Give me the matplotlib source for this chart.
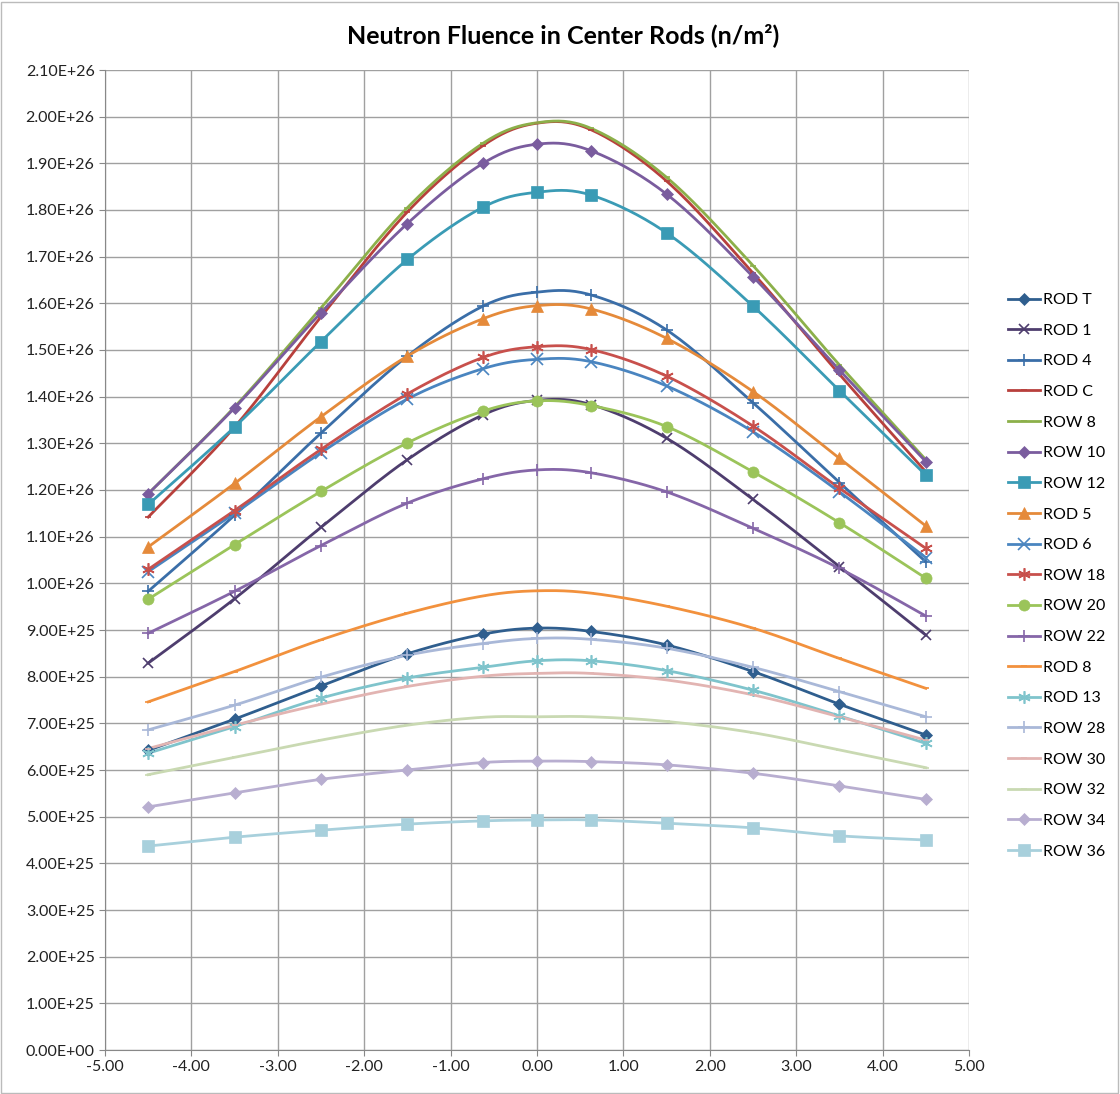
import matplotlib
matplotlib.use("Agg")
import matplotlib.pyplot as plt
import matplotlib.patches as mpatches
from matplotlib.ticker import FuncFormatter, MultipleLocator
import numpy as np

plt.rcParams['font.family'] = ['Lato', 'DejaVu Sans']

# positions along the rod
x_pos = [-4.5, -3.5, -2.5, -1.5, -0.625, 0.0, 0.625, 1.5, 2.5, 3.5, 4.5]

# fluence values in units of 1e26 n/m^2
rod_t = [0.642, 0.709, 0.780, 0.849, 0.891, 0.904, 0.897, 0.868, 0.811, 0.741, 0.675]
rod_1 = [0.829, 0.967, 1.120, 1.265, 1.361, 1.392, 1.383, 1.311, 1.180, 1.036, 0.889]
rod_4 = [0.983, 1.146, 1.322, 1.487, 1.594, 1.624, 1.618, 1.543, 1.387, 1.216, 1.046]
rod_c = [1.142, 1.335, 1.571, 1.796, 1.938, 1.986, 1.972, 1.862, 1.665, 1.448, 1.239]
row_8 = [1.192, 1.378, 1.590, 1.805, 1.943, 1.987, 1.975, 1.870, 1.681, 1.468, 1.265]
row_10 = [1.192, 1.376, 1.580, 1.771, 1.900, 1.941, 1.927, 1.834, 1.657, 1.457, 1.261]
row_12 = [1.169, 1.335, 1.518, 1.694, 1.806, 1.838, 1.832, 1.751, 1.594, 1.413, 1.232]
rod_5 = [1.078, 1.214, 1.357, 1.487, 1.567, 1.595, 1.588, 1.525, 1.411, 1.268, 1.123]
rod_6 = [1.025, 1.150, 1.280, 1.395, 1.460, 1.480, 1.475, 1.423, 1.325, 1.196, 1.055]
row_18 = [1.030, 1.156, 1.287, 1.406, 1.484, 1.507, 1.501, 1.444, 1.337, 1.204, 1.075]
row_20 = [0.966, 1.083, 1.197, 1.301, 1.369, 1.391, 1.381, 1.336, 1.239, 1.130, 1.011]
row_22 = [0.893, 0.983, 1.081, 1.172, 1.224, 1.243, 1.237, 1.196, 1.118, 1.032, 0.930]
rod_8 = [0.746, 0.811, 0.879, 0.936, 0.973, 0.984, 0.979, 0.951, 0.904, 0.839, 0.775]
rod_13 = [0.636, 0.693, 0.754, 0.797, 0.820, 0.834, 0.834, 0.813, 0.771, 0.716, 0.657]
row_28 = [0.686, 0.739, 0.799, 0.846, 0.871, 0.882, 0.880, 0.861, 0.820, 0.768, 0.714]
row_30 = [0.646, 0.696, 0.741, 0.779, 0.801, 0.807, 0.807, 0.793, 0.761, 0.714, 0.664]
row_32 = [0.590, 0.627, 0.664, 0.696, 0.713, 0.714, 0.714, 0.704, 0.680, 0.643, 0.605]
row_34 = [0.521, 0.551, 0.580, 0.600, 0.616, 0.619, 0.618, 0.611, 0.593, 0.566, 0.537]
row_36 = [0.437, 0.456, 0.471, 0.484, 0.491, 0.493, 0.493, 0.486, 0.476, 0.459, 0.450]

names = ['ROD T', 'ROD 1', 'ROD 4', 'ROD C', 'ROW 8', 'ROW 10', 'ROW 12', 'ROD 5',
         'ROD 6', 'ROW 18', 'ROW 20', 'ROW 22', 'ROD 8', 'ROD 13', 'ROW 28',
         'ROW 30', 'ROW 32', 'ROW 34', 'ROW 36']
series = [rod_t, rod_1, rod_4, rod_c, row_8, row_10, row_12, rod_5, rod_6, row_18,
          row_20, row_22, rod_8, rod_13, row_28, row_30, row_32, row_34, row_36]

star = (6, 2, 0)
# (colour, marker, marker size)
styles = [
    ('#2F5E8E', 'D', 6),
    ('#4E3D6E', 'x', 7),
    ('#3A6EA8', '+', 8),
    ('#B8403C', '_', 5),
    ('#8CB04A', '_', 5),
    ('#7A5C9E', 'D', 6),
    ('#3A9BB5', 's', 8),
    ('#E58A3A', '^', 8),
    ('#4A85C0', 'x', 8),
    ('#C8504C', star, 9),
    ('#9BC45A', 'o', 8),
    ('#8566A8', '+', 8),
    ('#F2913D', '_', 5),
    ('#7FC4CC', star, 9),
    ('#A9B8D8', '+', 8),
    ('#E2B4B2', '_', 5),
    ('#C9D9B2', '_', 5),
    ('#B8AED0', 'D', 6),
    ('#A8D0DC', 's', 8),
]


def smooth(xs, ys, n=20):
    # Bezier smoothing through the points, similar to spreadsheet "smoothed line"
    xs = np.asarray(xs, float)
    ys = np.asarray(ys, float)
    px = np.concatenate([[xs[0]], xs, [xs[-1]]])
    py = np.concatenate([[ys[0]], ys, [ys[-1]]])
    t = np.linspace(0, 1, n)
    out_x, out_y = [], []
    for i in range(1, len(px) - 2):
        p0x, p1x, p2x, p3x = px[i - 1], px[i], px[i + 1], px[i + 2]
        p0y, p1y, p2y, p3y = py[i - 1], py[i], py[i + 1], py[i + 2]
        c1x, c1y = p1x + (p2x - p0x) / 6, p1y + (p2y - p0y) / 6
        c2x, c2y = p2x - (p3x - p1x) / 6, p2y - (p3y - p1y) / 6
        bx = (1 - t) ** 3 * p1x + 3 * (1 - t) ** 2 * t * c1x + 3 * (1 - t) * t ** 2 * c2x + t ** 3 * p2x
        by = (1 - t) ** 3 * p1y + 3 * (1 - t) ** 2 * t * c1y + 3 * (1 - t) * t ** 2 * c2y + t ** 3 * p2y
        out_x.extend(bx)
        out_y.extend(by)
    return np.array(out_x), np.array(out_y)


fig = plt.figure(figsize=(11.2, 10.94), dpi=100, facecolor='white')
ax = fig.add_axes([105 / 1120, 44 / 1094, 864 / 1120, 980 / 1094])

handles = []
for name, vals, (col, mk, ms) in zip(names, series, styles):
    ys = np.array(vals) * 1e26
    sx, sy = smooth(x_pos, ys)
    mew = 1.2 if mk in ('x', '+', star, '_') else 0.5
    ax.plot(sx, sy, color=col, lw=2, zorder=3)
    ax.plot(x_pos, ys, linestyle='none', marker=mk, color=col, markersize=ms,
            markeredgewidth=mew, zorder=4)
    handles.append(plt.Line2D([], [], color=col, lw=2, marker=mk, markersize=ms,
                              markeredgewidth=mew))

ax.set_xlim(-5, 5)
ax.set_ylim(0, 2.1e26)
ax.xaxis.set_major_locator(MultipleLocator(1))
ax.yaxis.set_major_locator(MultipleLocator(1e25))
ax.xaxis.set_major_formatter(FuncFormatter(lambda v, p: f'{v:.2f}'))
ax.yaxis.set_major_formatter(FuncFormatter(lambda v, p: f'{v:.2E}'))
ax.tick_params(labelsize=11.5, colors='#222222', length=4, color='#888888')
ax.grid(True, color='#A0A0A0', lw=1)
ax.set_axisbelow(True)
for side in ['top', 'right']:
    ax.spines[side].set_visible(False)
for side in ['left', 'bottom']:
    ax.spines[side].set_color('#888888')

fig.text(563 / 1120, 1 - 35 / 1094, 'Neutron Fluence in Center Rods (n/m²)',
         ha='center', va='center', fontsize=18, fontweight='bold')

ax.legend(handles, names, loc='upper left', bbox_to_anchor=(1000 / 1120, 1 - 285 / 1094),
          bbox_transform=fig.transFigure, frameon=False, fontsize=11.5,
          handlelength=2.0, handletextpad=0.2, labelspacing=1.03, borderpad=0)

# chart area border
fig.patches.append(mpatches.Rectangle((0.001, 0.001), 0.997, 0.997, transform=fig.transFigure,
                                      fill=False, edgecolor='#BBBBBB', lw=1))

fig.savefig('out.png', dpi=100, facecolor='white')
